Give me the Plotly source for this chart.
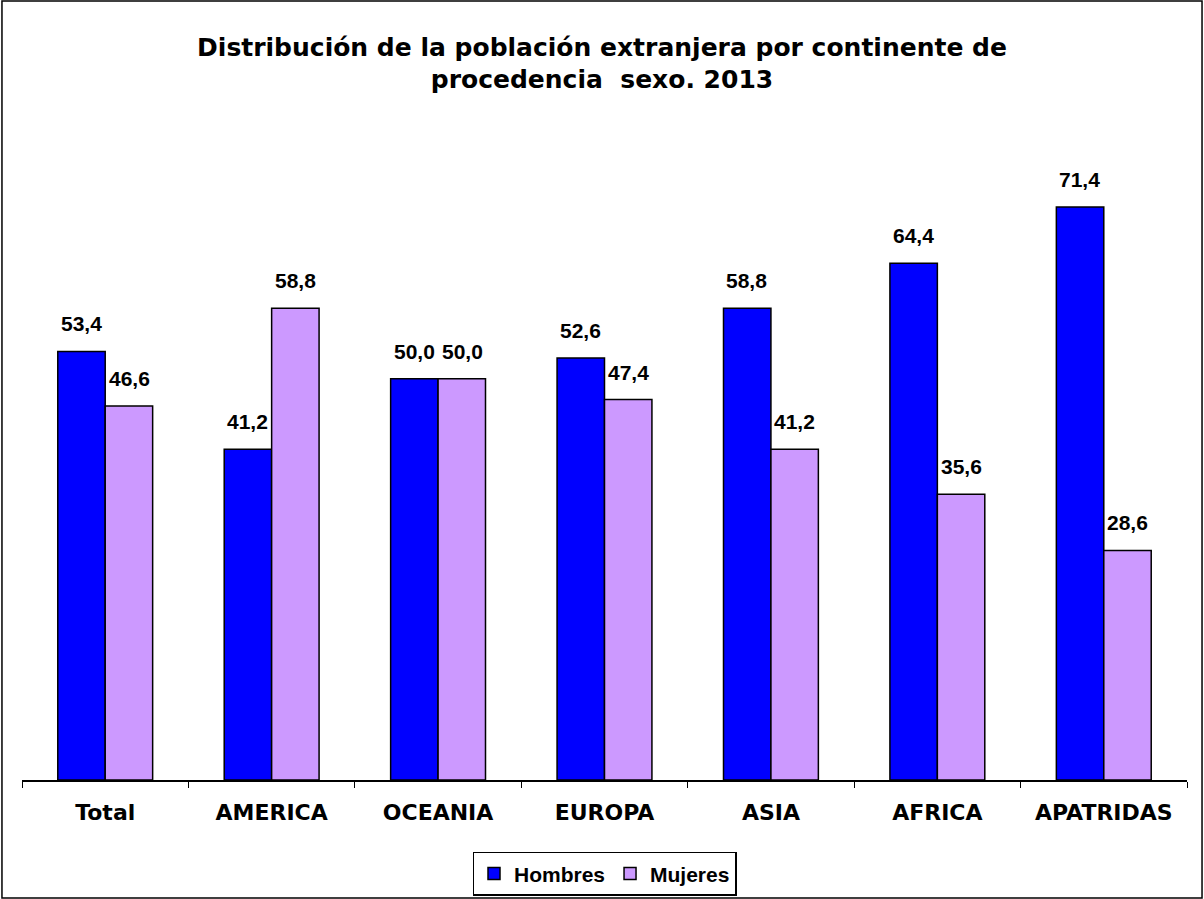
import plotly.graph_objects as go

# data
categorias = ['Total', 'AMERICA', 'OCEANIA', 'EUROPA', 'ASIA', 'AFRICA', 'APATRIDAS']
hombres = [53.4, 41.2, 50.0, 52.6, 58.8, 64.4, 71.4]
mujeres = [46.6, 58.8, 50.0, 47.4, 41.2, 35.6, 28.6]

color_h = '#0000FF'
color_m = '#CC99FF'

fig = go.Figure()
fig.add_trace(go.Bar(x=categorias, y=hombres, name='Hombres',
                     marker=dict(color=color_h, line=dict(color='black', width=1.5))))
fig.add_trace(go.Bar(x=categorias, y=mujeres, name='Mujeres',
                     marker=dict(color=color_m, line=dict(color='black', width=1.5))))

# value labels above bars
for serie, shift in ((hombres, -24), (mujeres, 24)):
    for cat, v in zip(categorias, serie):
        fig.add_annotation(x=cat, y=v, text=f'{v:.1f}'.replace('.', ','),
                           xshift=shift, yshift=14, yanchor='bottom', showarrow=False,
                           font=dict(family='Liberation Sans, Arial', size=21, color='black',
                                     weight='bold'))

# outer border
fig.add_shape(type='rect', xref='paper', yref='paper',
              x0=-0.0172, x1=1.0129, y0=-0.1838, y1=1.2134,
              line=dict(color='black', width=1.5))

fig.update_layout(
    width=1204, height=899,
    margin=dict(l=22, r=17, t=138, b=119, autoexpand=False),
    paper_bgcolor='white', plot_bgcolor='white',
    barmode='group', bargap=0.43, bargroupgap=0,
    title=dict(text='Distribución de la población extranjera por continente de<br>procedencia  sexo. 2013',
               x=0.5, xanchor='center', y=0.938, yanchor='top',
               font=dict(family='DejaVu Sans', size=25, color='black', weight='bold')),
    legend=dict(orientation='h', x=0.5, xanchor='center', y=-0.112, yanchor='top',
                bordercolor='black', borderwidth=1.5,
                font=dict(family='Liberation Sans, Arial', size=21, color='black', weight='bold'),
                itemwidth=30, traceorder='normal'),
    showlegend=True,
)
fig.update_xaxes(showline=True, linecolor='black', linewidth=1.5,
                 ticks='outside', tickson='boundaries', ticklen=6, tickcolor='black',
                 tickfont=dict(family='DejaVu Sans', size=22, color='black', weight='bold'),
                 ticklabelstandoff=12)
fig.update_yaxes(range=[0, 80], visible=False, showgrid=False)

fig.write_html('out.html', config={'displayModeBar': False},
               post_script="document.body.style.margin='0';")
